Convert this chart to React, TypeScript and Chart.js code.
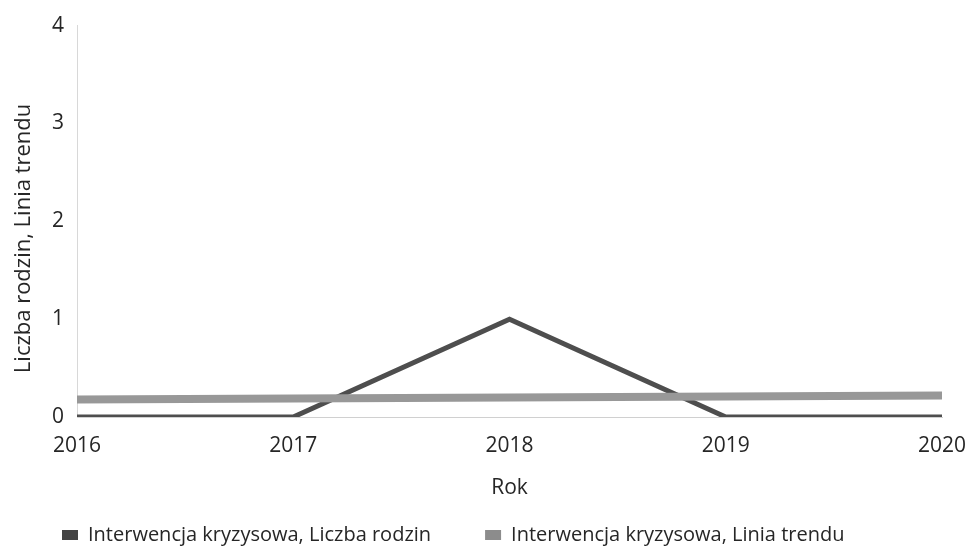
import React, { useEffect, useRef } from "react";
import { Chart, registerables } from "chart.js";

Chart.register(...registerables);

const years = ["2016", "2017", "2018", "2019", "2020"];
const liczbaRodzin = [0, 0, 1, 0, 0];
const liniaTrendu = [0.18, 0.19, 0.2, 0.21, 0.22];
const seriesNames = [
  "Interwencja kryzysowa, Liczba rodzin",
  "Interwencja kryzysowa, Linia trendu",
];
const yTitle = "Liczba rodzin, Linia trendu      ";
const xTitle = "Rok";

const FONT = "'Open Sans', 'Noto Sans', sans-serif";
const TEXT = "#262626";

export default function App() {
  const ref = useRef<HTMLCanvasElement | null>(null);

  useEffect(() => {
    document.body.style.margin = "0";
    if (!ref.current) return;
    const chart = new Chart(ref.current, {
      type: "line",
      data: {
        labels: years,
        datasets: [
          {
            label: seriesNames[0],
            data: liczbaRodzin,
            borderColor: "#4e4e4e",
            backgroundColor: "#4e4e4e",
            borderWidth: 5,
            pointRadius: 0,
            tension: 0,
            order: 2,
          },
          {
            label: seriesNames[1],
            data: liniaTrendu,
            borderColor: "#989898",
            backgroundColor: "#989898",
            borderWidth: 8,
            pointRadius: 0,
            tension: 0,
            order: 1,
          },
        ],
      },
      options: {
        animation: false,
        responsive: false,
        maintainAspectRatio: false,
        layout: { padding: { top: 23, right: 26, left: 8, bottom: -7 } },
        plugins: {
          tooltip: { enabled: false },
          legend: {
            position: "bottom",
            align: "start",
            labels: {
              boxWidth: 16,
              boxHeight: 10,
              padding: 54,
              color: TEXT,
              font: { family: FONT, size: 20 },
              sort: (a: any, b: any) => a.datasetIndex - b.datasetIndex,
              generateLabels: (c: any) =>
                Chart.defaults.plugins.legend.labels
                  .generateLabels(c)
                  .map((l: any) => ({
                    ...l,
                    lineWidth: 0,
                    fillStyle: l.datasetIndex === 0 ? "#444444" : "#8c8c8c",
                  })),
            },
          },
        },
        scales: {
          x: {
            offset: false,
            grid: { display: false, drawTicks: false },
            border: { display: true, color: "#d0d0d0", width: 1, dash: [5, 3] },
            ticks: {
              padding: 16,
              color: TEXT,
              font: { family: FONT, size: 21 },
              maxRotation: 0,
            },
            title: {
              display: true,
              text: xTitle,
              color: TEXT,
              font: { family: FONT, size: 21 },
              padding: { top: 0, bottom: -30 },
            },
            afterFit: (s: any) => {
              s.height = 54;
              s.paddingLeft = 0;
              s.paddingRight = 0;
            },
          },
          y: {
            min: 0,
            max: 4,
            ticks: {
              stepSize: 1,
              padding: 13,
              color: TEXT,
              font: { family: FONT, size: 21 },
            },
            grid: { display: false, drawTicks: false },
            border: { display: true, color: "#d8d8d8", width: 1, dash: [2, 3] },
            title: {
              display: true,
              text: yTitle,
              color: TEXT,
              font: { family: FONT, size: 22 },
              padding: { top: 3, bottom: 0 },
            },
            afterFit: (s: any) => {
              s.width = 69;
            },
          },
        },
      },
    });
    return () => chart.destroy();
  }, []);

  return (
    <div style={{ position: "absolute", left: 0, top: 0, width: 968, height: 548, background: "#fff" }}>
      <canvas ref={ref} width={968} height={548} />
    </div>
  );
}
